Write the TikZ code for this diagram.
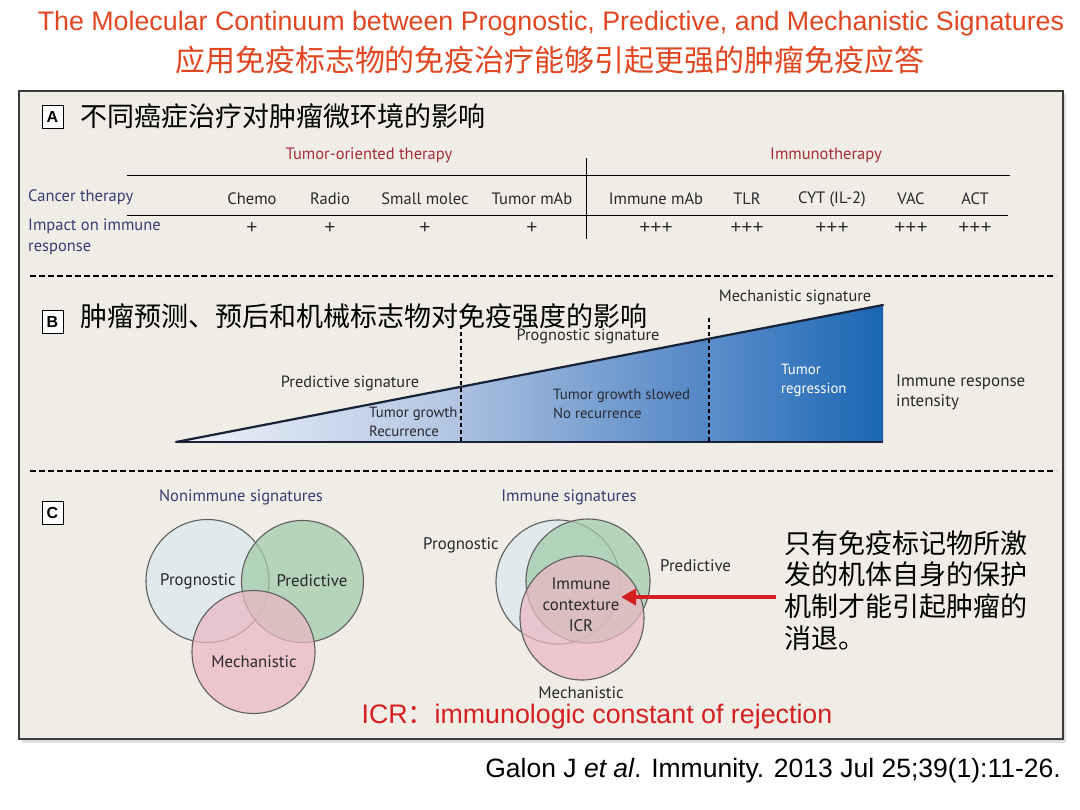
\documentclass[tikz,border=0pt]{standalone}
\usepackage{fontspec}
\setmainfont{Liberation Sans}
\newfontfamily\cjk{Noto Sans CJK SC}
\newfontfamily\myr{PT Sans}
\usetikzlibrary{arrows.meta,shadings}

\definecolor{titlered}{RGB}{226,70,32}
\definecolor{panelbg}{RGB}{240,237,231}
\definecolor{panelline}{RGB}{60,60,60}
\definecolor{hdrred}{RGB}{165,45,55}
\definecolor{navy}{RGB}{55,60,115}
\definecolor{txtgray}{RGB}{40,40,45}
\definecolor{icrred}{RGB}{212,32,32}
\definecolor{vblue}{RGB}{218,232,238}
\definecolor{vgreen}{RGB}{160,203,168}
\definecolor{vpink}{RGB}{236,184,195}
\definecolor{vline}{RGB}{95,95,95}
\definecolor{wedgeA}{RGB}{238,243,249}
\definecolor{wedgeB}{RGB}{176,196,226}
\definecolor{wedgeC}{RGB}{170,192,224}
\definecolor{wedgeD}{RGB}{82,134,198}
\definecolor{wedgeE}{RGB}{92,142,204}
\definecolor{wedgeF}{RGB}{26,102,178}
\definecolor{wedgeline}{RGB}{25,35,55}

\tikzset{
  tbl/.style={font=\myr\fontsize{16.5}{19}\selectfont, text=txtgray, inner sep=0pt},
  hdr/.style={font=\myr\fontsize{16.5}{19}\selectfont, text=hdrred, inner sep=0pt},
  rowlbl/.style={font=\myr\fontsize{16.5}{21}\selectfont, text=navy, inner sep=0pt, align=left},
  plus/.style={font=\fontsize{19}{20}\selectfont, text=txtgray, inner sep=0pt},
  wlbl/.style={font=\myr\fontsize{16.3}{19}\selectfont, text=txtgray, inner sep=0pt, align=left},
  inlbl/.style={font=\myr\fontsize{14.8}{19}\selectfont, text=txtgray, inner sep=0pt, align=left},
  vlbl/.style={font=\myr\fontsize{16.8}{21}\selectfont, text=txtgray, inner sep=0pt, align=center},
  sigttl/.style={font=\myr\fontsize{16.5}{19}\selectfont, text=navy, inner sep=0pt},
  letterbox/.style={draw=black, line width=0.9pt, fill=white, minimum width=21pt, minimum height=23pt, inner sep=0pt, font=\bfseries\fontsize{16}{18}\selectfont},
  cjkhead/.style={font=\cjk\fontsize{27}{32}\selectfont, text=black, inner sep=0pt, anchor=west},
  sepline/.style={draw=black, line width=1.3pt, dash pattern=on 6pt off 3pt},
  vsep/.style={draw=black, line width=1.6pt, dash pattern=on 4pt off 3pt},
  tline/.style={draw=black, line width=0.9pt},
  circ/.style={draw=vline, line width=1.1pt, fill opacity=0.72},
  redarrow/.style={draw=icrred, line width=4pt, -{Triangle[length=15pt,width=16pt]}}
}

\begin{document}
\begin{tikzpicture}[x=1pt,y=-1pt]
\useasboundingbox (0,0) rectangle (1080,810);
\fill[white] (0,0) rectangle (1080,810);

% titles
\node[font=\fontsize{26.8}{30}\selectfont, text=titlered, inner sep=0pt] (title1) at (551,24) {The Molecular Continuum between Prognostic, Predictive, and Mechanistic Signatures};
\node[font=\cjk\fontsize{30}{35}\selectfont, text=titlered, inner sep=0pt] (title2) at (550,60) {应用免疫标志物的免疫治疗能够引起更强的肿瘤免疫应答};

% panel
\fill[gray!25] (22,94) rectangle (1066,743);
\filldraw[fill=panelbg, draw=panelline, line width=2pt] (19,91) rectangle (1063,739);

% ---------- panel A ----------
\node[letterbox] (boxA) at (52.5,116.5) {A};
\node[cjkhead] (headA) at (80,116) {不同癌症治疗对肿瘤微环境的影响};

\node[hdr] (hdrTumor) at (369,155) {Tumor-oriented therapy};
\node[hdr] (hdrImmuno) at (826,155) {Immunotherapy};

\draw[tline] (127,175) -- (1010,175);
\draw[tline] (127,215) -- (1008,215);
\draw[tline] (586,158) -- (586,239);

\node[rowlbl, anchor=west] (rowCancer) at (28,197) {Cancer therapy};
\node[rowlbl, anchor=north west] (rowImpact) at (28,219) {Impact on immune\\response};

\node[tbl] (cChemo) at (252,199) {Chemo};
\node[tbl] (cRadio) at (330,199) {Radio};
\node[tbl] (cSmall) at (425,199) {Small molec};
\node[tbl] (cTmAb) at (532,199) {Tumor mAb};
\node[tbl] (cImAb) at (656,199) {Immune mAb};
\node[tbl] (cTLR) at (747,199) {TLR};
\node[tbl] (cCYT) at (832,199) {CYT (IL-2)};
\node[tbl] (cVAC) at (911,199) {VAC};
\node[tbl] (cACT) at (975,199) {ACT};

\node[plus] (pChemo) at (252,228) {+};
\node[plus] (pRadio) at (330,228) {+};
\node[plus] (pSmall) at (425,228) {+};
\node[plus] (pTmAb) at (532,228) {+};
\node[plus] (pImAb) at (656,228) {+++};
\node[plus] (pTLR) at (747,228) {+++};
\node[plus] (pCYT) at (832,228) {+++};
\node[plus] (pVAC) at (911,228) {+++};
\node[plus] (pACT) at (975,228) {+++};

\draw[sepline] (30,276) -- (1056,276);

% ---------- panel B ----------
\node[letterbox] (boxB) at (52.5,321.5) {B};
\node[cjkhead] (headB) at (80,316) {肿瘤预测、预后和机械标志物对免疫强度的影响};

\shade[left color=wedgeA, right color=wedgeB] (176,442) -- (461,386.8) -- (461,442) -- cycle;
\shade[left color=wedgeC, right color=wedgeD] (461,386.8) -- (709,338.7) -- (709,442) -- (461,442) -- cycle;
\shade[left color=wedgeE, right color=wedgeF] (709,338.7) -- (883,305) -- (883,442) -- (709,442) -- cycle;
\draw[wedgeline, line width=2.2pt, line cap=round] (176,442) -- (883,305);
\draw[wedgeline, line width=1.8pt] (176,442) -- (883,442);
\draw[vsep] (461,325) -- (461,442);
\draw[vsep] (709,318) -- (709,442);

\node[wlbl] (predSig) at (350,383) {Predictive signature};
\node[inlbl, anchor=west] (tgrowth) at (369,422) {Tumor growth\\Recurrence};
\node[wlbl] (progSig) at (588,336) {Prognostic signature};
\node[inlbl, anchor=west] (tslow) at (553,404) {Tumor growth slowed\\No recurrence};
\node[wlbl] (mechSig) at (795,297) {Mechanistic signature};
\node[inlbl, anchor=west, text=white] (treg) at (781,380) {Tumor\\regression};
\node[wlbl, anchor=west, font=\myr\fontsize{17}{20}\selectfont] (intens) at (896,392) {Immune response\\intensity};

\draw[sepline] (30,471) -- (1056,471);

% ---------- panel C ----------
\node[letterbox] (boxC) at (52.5,512.5) {C};
\node[sigttl] (nonimm) at (241,497) {Nonimmune signatures};
\node[sigttl] (immsig) at (569,497) {Immune signatures};

% left Venn
\filldraw[circ, fill=vblue] (207.5,581) circle[radius=61.5];
\filldraw[circ, fill=vgreen] (302.5,581.5) circle[radius=61];
\filldraw[circ, fill=vpink] (253.5,652) circle[radius=61.5];
\node[vlbl] (lProg) at (198,581) {Prognostic};
\node[vlbl] (lPred) at (312,581) {Predictive};
\node[vlbl] (lMech) at (254,662) {Mechanistic};

% right Venn
\filldraw[circ, fill=vblue] (558,582) circle[radius=62];
\filldraw[circ, fill=vgreen] (588,581) circle[radius=62];
\filldraw[circ, fill=vpink] (582,618) circle[radius=62];
\node[vlbl, anchor=east] (rProg) at (499,545) {Prognostic};
\node[vlbl, anchor=west] (rPred) at (660,566) {Predictive};
\node[vlbl] (rCtx) at (581,605) {Immune\\contexture\\ICR};
\node[vlbl] (rMech) at (581,693) {Mechanistic};

% note and arrow
\node[font=\cjk\fontsize{27}{31.8}\selectfont, text=black, inner sep=0pt, anchor=north west, align=left] (note) at (784,530) {只有免疫标记物所激\\发的机体自身的保护\\机制才能引起肿瘤的\\消退。};
\coordinate (arrStart) at (776,597);
\coordinate (arrTip) at (621,597);
\draw[redarrow] (arrStart) -- (arrTip);

\node[font=\fontsize{26.8}{30}\selectfont, text=icrred, inner sep=0pt] (icr) at (597,717) {ICR{\cjk ：}immunologic constant of rejection};

% citation
\node[font=\fontsize{26.5}{30}\selectfont, text=black, inner sep=0pt, anchor=east] (cite) at (1061,771) {Galon J \textit{et al}. Immunity. 2013 Jul 25;39(1):11-26.};
\end{tikzpicture}
\end{document}
